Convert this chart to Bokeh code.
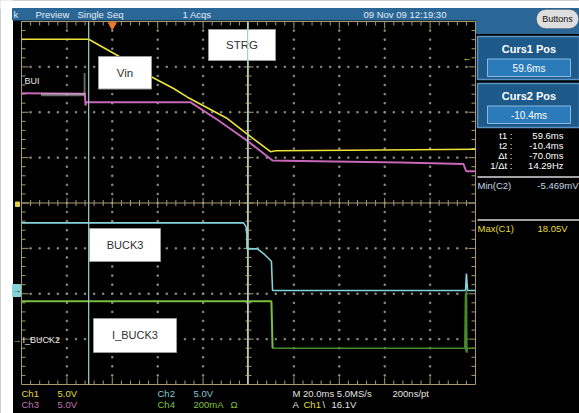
from bokeh.plotting import figure
from bokeh.models import Range1d, Label, BoxAnnotation
from bokeh.embed import file_html
from bokeh.resources import INLINE
import numpy as np

# ---------------- data ----------------
time_window_ms = [-40.0, 160.0]          # 20 ms/div, 10 div
cursor_times_ms = [59.6, -10.4]          # Curs1, Curs2
trigger_time_ms = [0.0]

# Ch1  Vin (yellow), 5 V/div
ch1_t = [-40.0, -10.4, 2.3, 17.6, 27.0, 33.1, 50.7, 59.6, 69.7, 72.0, 105.0, 160.0]
ch1_v = [18.05, 18.05, 16.25, 13.86, 12.62, 11.66, 9.31, 7.55, 5.65, 5.75, 5.82, 5.93]

# Ch3 (magenta), 5 V/div
ch3_t = [-40.0, -12.1, -11.8, -11.5, 34.4, 46.8, 58.7, 70.6, 82.9, 127.0, 154.7, 155.9, 160.0]
ch3_v = [12.10, 12.05, 10.74, 11.11, 11.11, 9.09, 7.00, 4.68, 4.63, 4.46, 4.30, 3.50, 3.50]
ch3_hatch_t = [-31.2, -12.4]
ch3_hatch_v = [11.92, 11.92]
ch3_hatch_vert_t = [-12.2, -12.2]
ch3_hatch_vert_v = [14.27, 11.85]

# Ch2  BUCK3 (cyan), 5 V/div
ch2_t = [-40.0, 57.8, 58.9, 59.3, 59.3, 64.0, 66.6, 70.1, 70.6, 155.6, 156.0, 156.5, 160.0]
ch2_v = [7.46, 7.46, 7.05, 6.06, 4.59, 4.59, 4.08, 3.23, 0.0, 0.0, 1.87, 0.0, 0.0]

# Ch4  I_BUCK3 (green), 200 mA/div
ch4_t_on = [-40.0, 70.1, 70.6]
ch4_i_on = [167.0, 167.0, -40.0]
ch4_t_off = [70.6, 155.3, 155.6, 155.8, 156.0, 156.2, 156.4, 160.0]
ch4_i_off = [-40.0, -40.0, 200.0, -55.0, 215.0, -60.0, -40.0, -40.0]

# channel settings: position (div), scale (units/div)
ch_pos = {"ch1": 0.0, "ch2": -1.93, "ch3": 0.0, "ch4": -3.0}
ch_scale = {"ch1": 5.0, "ch2": 5.0, "ch3": 5.0, "ch4": 200.0}

# ---------------- layout (page pixels) ----------------
W, H = 579, 413
X0, Y0 = 0, 0
XR, YB = X0 + W, Y0 + H
GL, GR, GT, GB = 21.0, 475.0, 21.0, 384.0
DX = (GR - GL) / 10.0
DY = (GB - GT) / 8.0
YC = (GT + GB) / 2.0
XC = (GL + GR) / 2.0

ms_per_px = (time_window_ms[1] - time_window_ms[0]) / (GR - GL)
extra_x = {"t": Range1d(time_window_ms[0] - (GL - X0) * ms_per_px,
                        time_window_ms[0] + (XR - GL) * ms_per_px)}
extra_y = {}
for ch in ch_pos:
    g = YC - ch_pos[ch] * DY
    u = ch_scale[ch] / DY
    extra_y[ch] = Range1d((g - YB) * u, (g - Y0) * u)

p = figure(width=W, height=H, x_range=Range1d(X0, XR), y_range=Range1d(YB, Y0),
           output_backend="svg", toolbar_location=None, x_axis_type=None, y_axis_type=None,
           min_border=0, min_border_left=0, min_border_right=0, min_border_top=0,
           min_border_bottom=0, outline_line_color=None,
           background_fill_color="black", border_fill_color="black")
p.grid.visible = False
p.extra_x_ranges = extra_x
p.extra_y_ranges = extra_y

FONT = "Liberation Sans"
GRAT = "#a89a6c"
BAR = "#2a6796"

# white margins, top bar
p.quad(left=[0, 0], right=[12, XR], top=[0, 0], bottom=[YB, 8], color="white", level="underlay")
p.quad(left=[12], right=[XR], top=[8], bottom=[19.5], color=BAR, level="underlay")
p.quad(left=[476], right=[XR], top=[8], bottom=[33], color=BAR, level="underlay")

# grid dots
dx, dy = [], []
for i in range(1, 10):
    if i == 5:
        continue
    for k in range(1, 40):
        dx.append(GL + i * DX); dy.append(GT + k * DY / 5)
for j in range(1, 8):
    if j == 4:
        continue
    for k in range(1, 50):
        dx.append(GL + k * DX / 5); dy.append(GT + j * DY)
p.scatter(dx, dy, marker="square", size=1.4, color="#8a8a80", level="underlay")

# frame and ticks
xs, ys = [], []
xs += [[GL, GR, GR, GL, GL]]; ys += [[GT, GT, GB, GB, GT]]
xs.append([GL, GR]); ys.append([YC, YC])
xs.append([XC, XC]); ys.append([GT, GB])
for k in range(1, 50):
    x = GL + k * DX / 5
    major = (k % 5 == 0)
    L = 7 if major else 4
    xs.append([x, x]); ys.append([GT, GT + L])
    xs.append([x, x]); ys.append([GB, GB - L])
    c = 5 if major else 3
    xs.append([x, x]); ys.append([YC - c, YC + c])
for k in range(1, 40):
    y = GT + k * DY / 5
    major = (k % 5 == 0)
    L = 7 if major else 4
    xs.append([GL, GL + L]); ys.append([y, y])
    xs.append([GR, GR - L]); ys.append([y, y])
    c = 5 if major else 3
    xs.append([XC - c, XC + c]); ys.append([y, y])
p.multi_line(xs, ys, line_color=GRAT, line_width=1, level="underlay")

# right panel (behind texts)
p.quad(left=[477, 477], right=[XR, XR], top=[36, 83], bottom=[79, 127],
       fill_color="#1d5a8a", line_color="#5d93c4", line_width=1.5)
p.quad(left=[487, 487], right=[570, 570], top=[58.5, 105.5], bottom=[76, 123],
       fill_color="#2b7aba", line_color="#8ab8e0", line_width=1)
p.segment(x0=[477, 477], x1=[XR, XR], y0=[176.5, 219.5], y1=[176.5, 219.5],
          line_color="#d8d8d8", line_width=1.5)

# traces
p.line(ch3_t, ch3_v, x_range_name="t", y_range_name="ch3", line_color="#c866b8", line_width=2)
p.line(ch3_hatch_t, ch3_hatch_v, x_range_name="t", y_range_name="ch3",
       line_color="#d8d8d8", line_width=3, line_dash="1 1")
p.line(ch3_hatch_vert_t, ch3_hatch_vert_v, x_range_name="t", y_range_name="ch3",
       line_color="#c8c8c8", line_width=2, line_dash="1 1")
p.line(ch1_t, ch1_v, x_range_name="t", y_range_name="ch1", line_color="#ece43a", line_width=1.6)
p.line(ch2_t, ch2_v, x_range_name="t", y_range_name="ch2", line_color="#86d2da", line_width=1.6)
p.line(ch4_t_off, ch4_i_off, x_range_name="t", y_range_name="ch4", line_color="#4a8a2c", line_width=1.6)
p.line(ch4_t_on, ch4_i_on, x_range_name="t", y_range_name="ch4", line_color="#78c040", line_width=2)

# channel ground markers (left edge)
p.quad(left=[15, 12], right=[19, 20], top=[201.5, 284], bottom=[206, 296],
       color=["#e0d040", "#86d2da"])

# white label boxes
boxes = [(98, 151, 56, 88.5), (208, 275, 29, 60), (89, 160, 228, 261), (93, 176, 318, 352)]
p.quad(left=[b[0] for b in boxes], right=[b[1] for b in boxes],
       top=[b[2] for b in boxes], bottom=[b[3] for b in boxes],
       fill_color="white", line_color="#9a9a9a", line_width=1, level="annotation")

# cursors and trigger marker
cr = p.segment(x0=cursor_times_ms, x1=cursor_times_ms, y0=[GT] * 2, y1=[GB] * 2,
               x_range_name="t", line_color="#a6d0d0", line_width=1.2)
cr.level = "overlay"
tr = p.scatter(trigger_time_ms, [24.5], x_range_name="t", marker="inverted_triangle",
               size=8, color="#f07828")
tr.level = "overlay"

# Buttons pill
p.add_layout(BoxAnnotation(left=536, right=578, top=9, bottom=28, fill_color="#dedede",
                           fill_alpha=1, line_color="#404040", line_width=1, border_radius=9))


def lab(x, y, text, color="white", size=9.5, align="left", bold=False, font=FONT):
    p.add_layout(Label(x=x, y=y, text=text, text_color=color, text_font=font,
                       text_font_size=f"{size}px", text_align=align, text_baseline="middle",
                       text_font_style="bold" if bold else "normal"))


# box texts
lab(124.5, 72, "Vin", "#303030", 11.5, "center")
lab(241.5, 44.5, "STRG", "#303030", 11.5, "center")
lab(124.5, 244, "BUCK3", "#303030", 11, "center")
lab(134.5, 334, "I_BUCK3", "#303030", 11, "center")

# channel markers / labels
lab(12.5, 290, "→", "black", 8)
lab(12, 339, "→", "#78c040", 9)
lab(22, 339, "I_BUCK2", "#e8e8e8", 9)
lab(24, 80, "BUI", "#e8e8e8", 9)
lab(462, 57, "←", "#ece43a", 9)

# top bar texts
TB = "#e4ecf4"
lab(13, 14, "k", TB, 9.5)
lab(35, 14, "Preview", TB, 9.5)
lab(77, 14, "Single Seq", TB, 9.5)
lab(182, 14, "1 Acqs", TB, 9.5)
lab(363, 14, "09 Nov 09 12:19:30", TB, 9.5)
lab(557, 18.5, "Buttons", "#111111", 9, "center")

# right panel texts
lab(528.5, 48, "Curs1 Pos", "white", 11, "center", True)
lab(528.5, 67.5, "59.6ms", "white", 10, "center")
lab(528.5, 95, "Curs2 Pos", "white", 11, "center", True)
lab(528.5, 114.5, "-10.4ms", "white", 10, "center")

rows = [("t1 :", "59.6ms", 135), ("t2 :", "-10.4ms", 144.5), ("Δt :", "-70.0ms", 154.5),
        ("1/Δt :", "14.29Hz", 164.5)]
for a, b, y in rows:
    lab(512, y, a, "white", 9.5, "right")
    lab(563, y, b, "white", 9.5, "right")
lab(477, 185, "Min(C2)", "#c4d8e8", 9.5)
lab(578, 185, "-5.469mV", "#c4d8e8", 9.5, "right")
lab(477, 228, "Max(C1)", "#e6dc3c", 9.5)
lab(537, 228, "18.05V", "#e6dc3c", 9.5)

# bottom readouts
YEL, MAG, CYA, GRN, WH = "#e6dc3c", "#c070b8", "#86c8d2", "#80c040", "#e4e4e4"
lab(21, 393, "Ch1", YEL); lab(57, 393, "5.0V", YEL)
lab(21, 403.5, "Ch3", MAG); lab(57, 403.5, "5.0V", MAG)
lab(157, 393, "Ch2", CYA); lab(193, 393, "5.0V", CYA)
lab(157, 403.5, "Ch4", GRN); lab(193, 403.5, "200mA", GRN); lab(230, 403.5, "Ω", GRN)
lab(292, 393, "M 20.0ms 5.0MS/s", WH); lab(392, 393, "200ns/pt", WH)
lab(292, 403.5, "A", WH); lab(303, 403.5, "Ch1", YEL); lab(322, 403.5, "\\", WH)
lab(331, 403.5, "16.1V", WH)

open("out.html", "w").write(file_html(p, INLINE))
